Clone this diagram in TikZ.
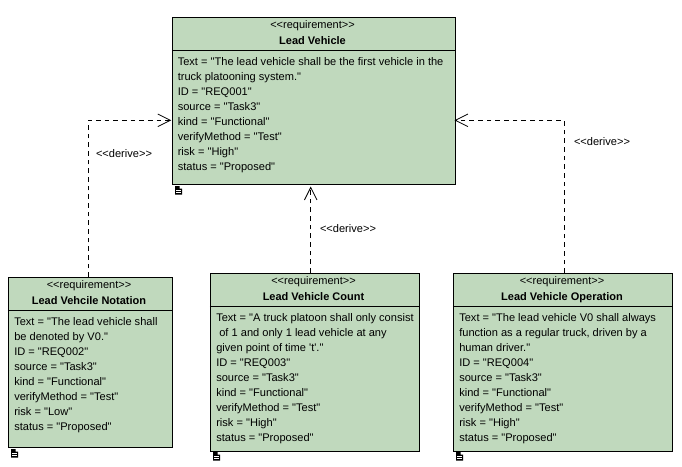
\documentclass[tikz,border=0pt]{standalone}
\usepackage{fontspec}
\newfontfamily\reqfont{Liberation Sans}
\usetikzlibrary{arrows.meta}
\definecolor{reqgreen}{RGB}{192,217,189}
\newcommand{\pagemark}[2]{%
  \fill[black] (#1,#2) -- (#1+4.5,#2) -- (#1+4.5,#2+2.5) -- (#1+7,#2+2.5) -- (#1+7,#2+8.5) -- (#1,#2+8.5) -- cycle;
  \draw[white,line width=0.45pt] (#1+1,#2+4) -- (#1+6,#2+4) (#1+1,#2+6) -- (#1+6,#2+6);
}
\tikzset{
  reqbox/.style={draw=black,fill=reqgreen,line width=0.75pt,rectangle,inner sep=0pt,text width=0pt},
  headtext/.style={font=\reqfont\fontsize{8.25pt}{11pt}\selectfont,align=center,inner sep=0pt,anchor=north},
  bodytext/.style={font=\reqfont\fontsize{8.3pt}{11.25pt}\selectfont,align=left,inner sep=0pt,anchor=north west},
  derivelabel/.style={font=\reqfont\fontsize{8.3pt}{10pt}\selectfont,inner sep=0pt},
  dep/.style={draw=black,line width=0.75pt,dash pattern=on 3.5pt off 3pt,
    -{Straight Barb[length=9.4pt,width=9.4pt,line width=0.6pt]},shorten >=0.5pt},
  divider/.style={draw=black,line width=0.75pt}
}
\begin{document}
\begin{tikzpicture}[x=0.75pt,y=-0.75pt]
\useasboundingbox (0,0) rectangle (682,467);
\fill[white] (0,0) rectangle (682,467);
% boxes
\node[reqbox,minimum width=212pt,minimum height=125pt] (lead) at (313.75,100.75) {};
\node[reqbox,minimum width=123.3pt,minimum height=127.5pt] (notation) at (90.5,362.5) {};
\node[reqbox,minimum width=156.4pt,minimum height=133.8pt] (count) at (314.75,362.5) {};
\node[reqbox,minimum width=164.5pt,minimum height=133.5pt] (operation) at (563,362.4) {};
% dividers
\draw[divider] (lead.west |- 0,50.5) -- (lead.east |- 0,50.5);
\draw[divider] (notation.west |- 0,310.5) -- (notation.east |- 0,310.5);
\draw[divider] (count.west |- 0,306.5) -- (count.east |- 0,306.5);
\draw[divider] (operation.west |- 0,306.5) -- (operation.east |- 0,306.5);
% headers
\node[headtext] (leadh) at (312.5,20.5) {<<requirement>>\\[0.6pt]\textbf{Lead Vehicle}};
\node[headtext] (notationh) at (89,280.5) {<<requirement>>\\[0.6pt]\textbf{Lead Vehcile Notation}};
\node[headtext] (counth) at (313.5,276.5) {<<requirement>>\\[0.6pt]\textbf{Lead Vehicle Count}};
\node[headtext] (operationh) at (562,276.5) {<<requirement>>\\[0.6pt]\textbf{Lead Vehicle Operation}};
% bodies
\node[bodytext] (leadb) at (177.5,57.2) {Text = "The lead vehicle shall be the first vehicle in the\\truck platooning system."\\ID = "REQ001"\\source = "Task3"\\kind = "Functional"\\verifyMethod = "Test"\\risk = "High"\\status = "Proposed"};
\node[bodytext] (notationb) at (14,317.2) {Text = "The lead vehicle shall\\be denoted by V0."\\ID = "REQ002"\\source = "Task3"\\kind = "Functional"\\verifyMethod = "Test"\\risk = "Low"\\status = "Proposed"};
\node[bodytext] (countb) at (216,313.2) {Text = "A truck platoon shall only consist\\\ of 1 and only 1 lead vehicle at any\\given point of time 't'."\\ID = "REQ003"\\source = "Task3"\\kind = "Functional"\\verifyMethod = "Test"\\risk = "High"\\status = "Proposed"};
\node[bodytext] (operationb) at (459,313.2) {Text = "The lead vehicle V0 shall always\\function as a regular truck, driven by a\\human driver."\\ID = "REQ004"\\source = "Task3"\\kind = "Functional"\\verifyMethod = "Test"\\risk = "High"\\status = "Proposed"};
% connectors
\coordinate (elbowL) at (88,120.3);
\coordinate (axisM) at (310.7,230);
\coordinate (elbowR) at (564,120.3);
\draw[dep] (elbowL |- notation.north) -- (elbowL) -- (lead.west |- elbowL);
\draw[dep,shorten >=1.5pt] (axisM |- count.north) -- (axisM |- lead.south);
\draw[dep,shorten >=-0.8pt] (elbowR |- operation.north) -- (elbowR) -- (lead.east |- elbowR);
% labels
\node[derivelabel] (d1) at (124,154) {<<derive>>};
\node[derivelabel] (d2) at (348,229) {<<derive>>};
\node[derivelabel] (d3) at (602,141.5) {<<derive>>};
% page marks
\pagemark{175.2}{186}
\pagemark{11}{449}
\pagemark{213.2}{452}
\pagemark{456}{452}
\end{tikzpicture}
\end{document}
